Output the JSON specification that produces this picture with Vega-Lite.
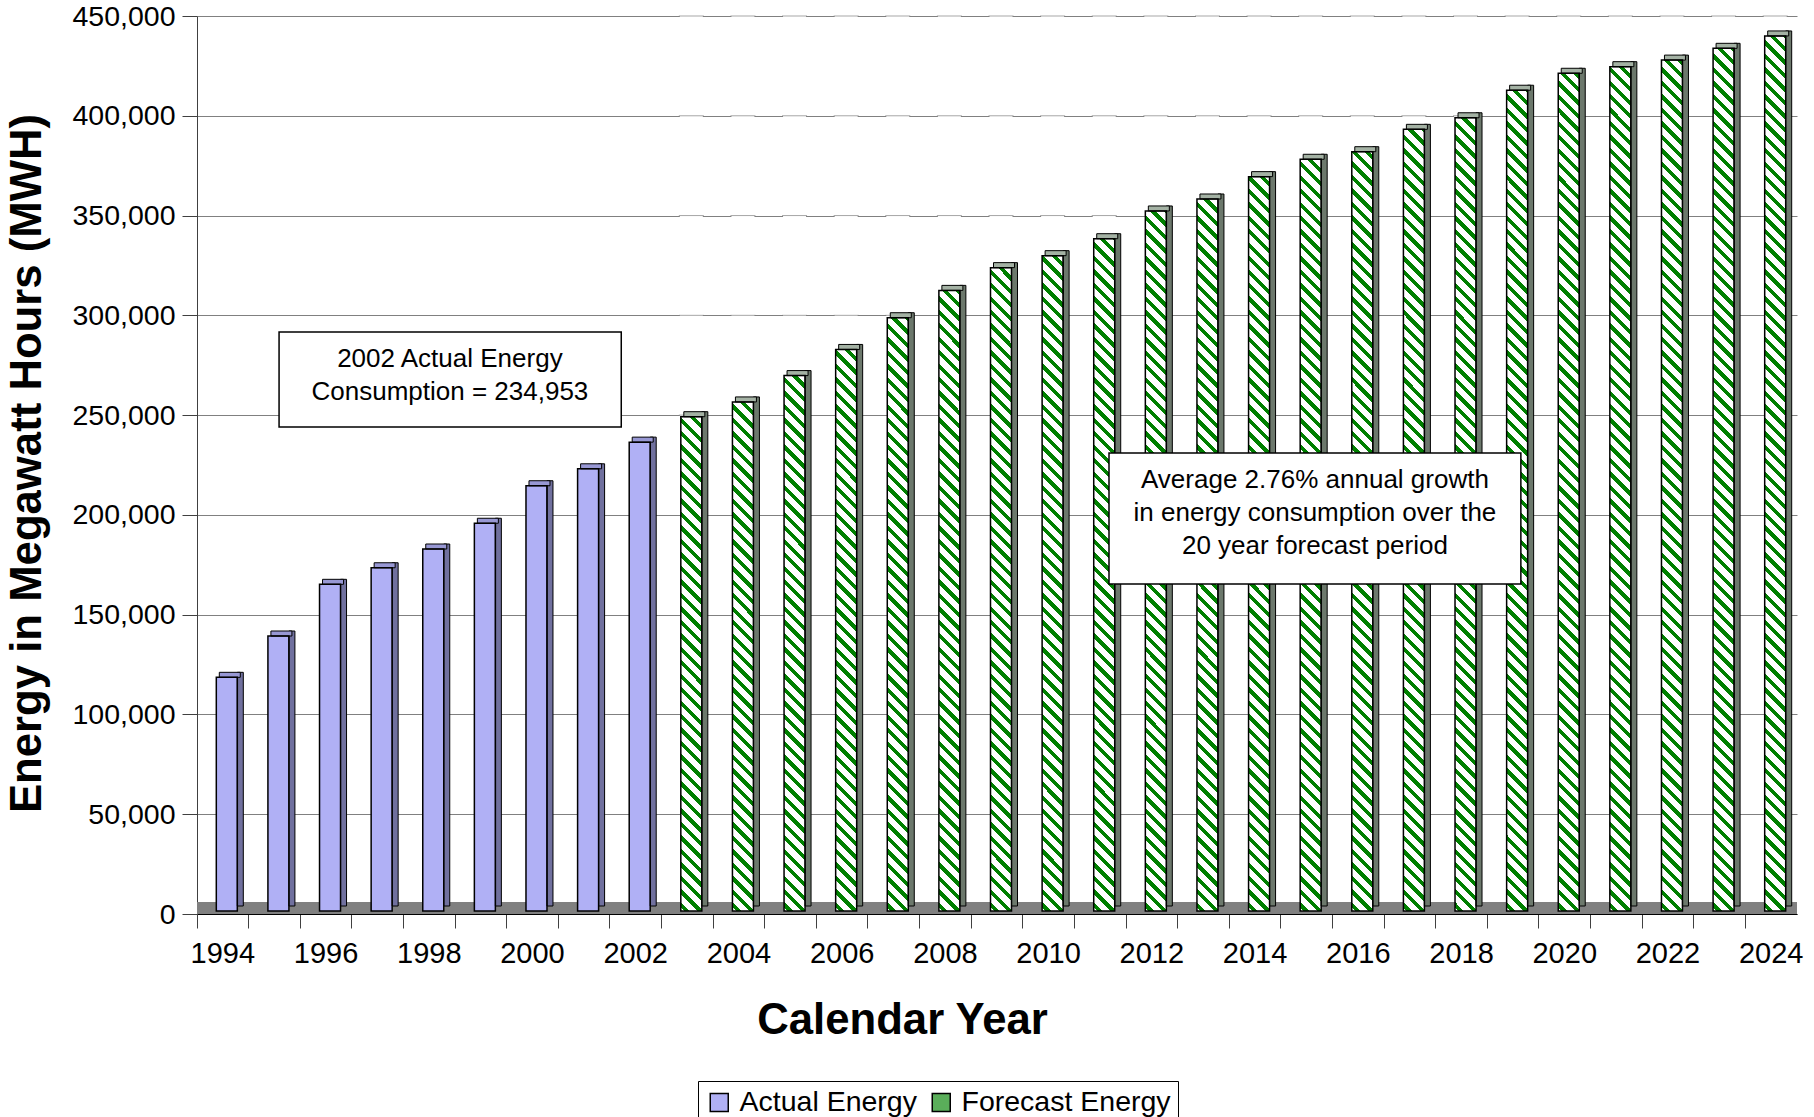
{
  "$schema": "https://vega.github.io/schema/vega-lite/v6.json",
  "width": 1600,
  "height": 898,
  "autosize": {"type": "none"},
  "padding": {"left": 197, "top": 16, "right": 17, "bottom": 203},
  "background": "#ffffff",
  "config": {
    "view": {"stroke": null},
    "font": "Liberation Sans",
    "axis": {"labelFont": "Liberation Sans", "titleFont": "Liberation Sans", "labelColor": "#000000", "titleColor": "#000000"},
    "legend": {"labelFont": "Liberation Sans"},
    "text": {"font": "Liberation Sans"}
  },
  "datasets": {
    "energy": [
      {"year": 1994, "value": 117100, "type": "Actual Energy"},
      {"year": 1995, "value": 137800, "type": "Actual Energy"},
      {"year": 1996, "value": 163700, "type": "Actual Energy"},
      {"year": 1997, "value": 172000, "type": "Actual Energy"},
      {"year": 1998, "value": 181400, "type": "Actual Energy"},
      {"year": 1999, "value": 194300, "type": "Actual Energy"},
      {"year": 2000, "value": 213100, "type": "Actual Energy"},
      {"year": 2001, "value": 221600, "type": "Actual Energy"},
      {"year": 2002, "value": 234953, "type": "Actual Energy"},
      {"year": 2003, "value": 247700, "type": "Forecast Energy"},
      {"year": 2004, "value": 255100, "type": "Forecast Energy"},
      {"year": 2005, "value": 268300, "type": "Forecast Energy"},
      {"year": 2006, "value": 281400, "type": "Forecast Energy"},
      {"year": 2007, "value": 297300, "type": "Forecast Energy"},
      {"year": 2008, "value": 311000, "type": "Forecast Energy"},
      {"year": 2009, "value": 322400, "type": "Forecast Energy"},
      {"year": 2010, "value": 328400, "type": "Forecast Energy"},
      {"year": 2011, "value": 336900, "type": "Forecast Energy"},
      {"year": 2012, "value": 350800, "type": "Forecast Energy"},
      {"year": 2013, "value": 356800, "type": "Forecast Energy"},
      {"year": 2014, "value": 368000, "type": "Forecast Energy"},
      {"year": 2015, "value": 376700, "type": "Forecast Energy"},
      {"year": 2016, "value": 380500, "type": "Forecast Energy"},
      {"year": 2017, "value": 391700, "type": "Forecast Energy"},
      {"year": 2018, "value": 397500, "type": "Forecast Energy"},
      {"year": 2019, "value": 411300, "type": "Forecast Energy"},
      {"year": 2020, "value": 419800, "type": "Forecast Energy"},
      {"year": 2021, "value": 423100, "type": "Forecast Energy"},
      {"year": 2022, "value": 426400, "type": "Forecast Energy"},
      {"year": 2023, "value": 432300, "type": "Forecast Energy"},
      {"year": 2024, "value": 438500, "type": "Forecast Energy"}
    ],
    "notes": [
      {"id": "actual", "label": "2002 Actual Energy\nConsumption = 234,953"},
      {"id": "growth", "label": "Average 2.76% annual growth\nin energy consumption over the\n20 year forecast period"}
    ]
  },
  "layer": [
    {
      "data": {"name": "energy"},
      "layer": [
        {
          "mark": {"type": "rule", "color": "#808080", "strokeWidth": 12, "yOffset": -6},
          "encoding": {"y": {"datum": 0, "type": "quantitative"}}
        },
        {
          "mark": {"type": "bar", "size": 21, "xOffset": 4, "yOffset": -3, "y2Offset": -3, "strokeWidth": 0},
          "encoding": {
            "x": {
              "field": "year", "type": "ordinal",
              "scale": {"paddingInner": 0, "paddingOuter": 0},
              "axis": {
                "title": "Calendar Year",
                "bandPosition": 0,
                "labelExpr": "datum.value % 2 == 0 ? datum.label : ''",
                "labelAngle": 0,
                "labelOverlap": false,
                "labelFontSize": 29,
                "labelPadding": 11,
                "tickSize": 14,
                "tickColor": "#404040",
                "domainColor": "#000000",
                "grid": false,
                "titleFontSize": 43.7,
                "titleFontWeight": "bold",
                "titleX": 705,
                "titleY": 119.4,
                "titleAlign": "center",
                "titleBaseline": "alphabetic"
              }
            },
            "y": {
              "field": "value", "type": "quantitative",
              "scale": {"domain": [0, 450000], "nice": false},
              "axis": {
                "title": "Energy in Megawatt Hours (MWH)",
                "values": [0, 50000, 100000, 150000, 200000, 250000, 300000, 350000, 400000, 450000],
                "format": ",d",
                "labelFontSize": 28.5,
                "labelPadding": 7,
                "tickSize": 15,
                "tickColor": "#404040",
                "domainColor": "#404040",
                "grid": true,
                "gridColor": "#808080",
                "gridWidth": 1,
                "titleFontSize": 43.7,
                "titleFontWeight": "bold",
                "titleAngle": -90,
                "titleX": -157,
                "titleY": 447,
                "titleAlign": "center",
                "titleBaseline": "alphabetic"
              }
            },
            "fill": {
              "field": "type", "type": "nominal",
              "scale": {"domain": ["Actual Energy", "Forecast Energy"], "range": ["#b0b0f5", "#5aae5a"]},
              "legend": {
                "orient": "none",
                "legendX": 501,
                "legendY": 1065,
                "direction": "horizontal",
                "title": null,
                "symbolType": "square",
                "symbolSize": 324,
                "symbolStrokeColor": "#000000",
                "symbolStrokeWidth": 1.5,
                "labelFontSize": 28.5,
                "labelColor": "#000000",
                "labelLimit": 400,
                "labelOffset": 6,
                "columnPadding": 10,
                "padding": 7,
                "strokeColor": "#000000",
                "fillColor": "#ffffff"
              }
            }
          }
        },
        {
          "transform": [{"filter": "datum.type == 'Forecast Energy'"}],
          "mark": {
            "type": "bar", "size": 21, "xOffset": 4, "yOffset": -3, "y2Offset": -3, "strokeWidth": 0,
            "fill": {
              "gradient": "linear", "x1": 0.0234, "y1": 0, "x2": 0, "y2": 1,
              "stops": [
                {"offset": 0, "color": "green"}, {"offset": 0.006, "color": "green"}, {"offset": 0.006, "color": "#fff"}, {"offset": 0.015, "color": "#fff"},
                {"offset": 0.015, "color": "green"}, {"offset": 0.021, "color": "green"}, {"offset": 0.021, "color": "#fff"}, {"offset": 0.03, "color": "#fff"},
                {"offset": 0.03, "color": "green"}, {"offset": 0.036, "color": "green"}, {"offset": 0.036, "color": "#fff"}, {"offset": 0.045, "color": "#fff"},
                {"offset": 0.045, "color": "green"}, {"offset": 0.051, "color": "green"}, {"offset": 0.051, "color": "#fff"}, {"offset": 0.06, "color": "#fff"},
                {"offset": 0.06, "color": "green"}, {"offset": 0.066, "color": "green"}, {"offset": 0.066, "color": "#fff"}, {"offset": 0.075, "color": "#fff"},
                {"offset": 0.075, "color": "green"}, {"offset": 0.081, "color": "green"}, {"offset": 0.081, "color": "#fff"}, {"offset": 0.09, "color": "#fff"},
                {"offset": 0.09, "color": "green"}, {"offset": 0.096, "color": "green"}, {"offset": 0.096, "color": "#fff"}, {"offset": 0.105, "color": "#fff"},
                {"offset": 0.105, "color": "green"}, {"offset": 0.111, "color": "green"}, {"offset": 0.111, "color": "#fff"}, {"offset": 0.12, "color": "#fff"},
                {"offset": 0.12, "color": "green"}, {"offset": 0.126, "color": "green"}, {"offset": 0.126, "color": "#fff"}, {"offset": 0.135, "color": "#fff"},
                {"offset": 0.135, "color": "green"}, {"offset": 0.141, "color": "green"}, {"offset": 0.141, "color": "#fff"}, {"offset": 0.15, "color": "#fff"},
                {"offset": 0.15, "color": "green"}, {"offset": 0.156, "color": "green"}, {"offset": 0.156, "color": "#fff"}, {"offset": 0.165, "color": "#fff"},
                {"offset": 0.165, "color": "green"}, {"offset": 0.171, "color": "green"}, {"offset": 0.171, "color": "#fff"}, {"offset": 0.18, "color": "#fff"},
                {"offset": 0.18, "color": "green"}, {"offset": 0.186, "color": "green"}, {"offset": 0.186, "color": "#fff"}, {"offset": 0.195, "color": "#fff"},
                {"offset": 0.195, "color": "green"}, {"offset": 0.201, "color": "green"}, {"offset": 0.201, "color": "#fff"}, {"offset": 0.21, "color": "#fff"},
                {"offset": 0.21, "color": "green"}, {"offset": 0.216, "color": "green"}, {"offset": 0.216, "color": "#fff"}, {"offset": 0.225, "color": "#fff"},
                {"offset": 0.225, "color": "green"}, {"offset": 0.231, "color": "green"}, {"offset": 0.231, "color": "#fff"}, {"offset": 0.24, "color": "#fff"},
                {"offset": 0.24, "color": "green"}, {"offset": 0.246, "color": "green"}, {"offset": 0.246, "color": "#fff"}, {"offset": 0.255, "color": "#fff"},
                {"offset": 0.255, "color": "green"}, {"offset": 0.261, "color": "green"}, {"offset": 0.261, "color": "#fff"}, {"offset": 0.27, "color": "#fff"},
                {"offset": 0.27, "color": "green"}, {"offset": 0.276, "color": "green"}, {"offset": 0.276, "color": "#fff"}, {"offset": 0.285, "color": "#fff"},
                {"offset": 0.285, "color": "green"}, {"offset": 0.291, "color": "green"}, {"offset": 0.291, "color": "#fff"}, {"offset": 0.3, "color": "#fff"},
                {"offset": 0.3, "color": "green"}, {"offset": 0.306, "color": "green"}, {"offset": 0.306, "color": "#fff"}, {"offset": 0.315, "color": "#fff"},
                {"offset": 0.315, "color": "green"}, {"offset": 0.321, "color": "green"}, {"offset": 0.321, "color": "#fff"}, {"offset": 0.33, "color": "#fff"},
                {"offset": 0.33, "color": "green"}, {"offset": 0.336, "color": "green"}, {"offset": 0.336, "color": "#fff"}, {"offset": 0.345, "color": "#fff"},
                {"offset": 0.345, "color": "green"}, {"offset": 0.351, "color": "green"}, {"offset": 0.351, "color": "#fff"}, {"offset": 0.36, "color": "#fff"},
                {"offset": 0.36, "color": "green"}, {"offset": 0.366, "color": "green"}, {"offset": 0.366, "color": "#fff"}, {"offset": 0.375, "color": "#fff"},
                {"offset": 0.375, "color": "green"}, {"offset": 0.381, "color": "green"}, {"offset": 0.381, "color": "#fff"}, {"offset": 0.39, "color": "#fff"},
                {"offset": 0.39, "color": "green"}, {"offset": 0.396, "color": "green"}, {"offset": 0.396, "color": "#fff"}, {"offset": 0.405, "color": "#fff"},
                {"offset": 0.405, "color": "green"}, {"offset": 0.411, "color": "green"}, {"offset": 0.411, "color": "#fff"}, {"offset": 0.42, "color": "#fff"},
                {"offset": 0.42, "color": "green"}, {"offset": 0.426, "color": "green"}, {"offset": 0.426, "color": "#fff"}, {"offset": 0.435, "color": "#fff"},
                {"offset": 0.435, "color": "green"}, {"offset": 0.441, "color": "green"}, {"offset": 0.441, "color": "#fff"}, {"offset": 0.45, "color": "#fff"},
                {"offset": 0.45, "color": "green"}, {"offset": 0.456, "color": "green"}, {"offset": 0.456, "color": "#fff"}, {"offset": 0.465, "color": "#fff"},
                {"offset": 0.465, "color": "green"}, {"offset": 0.471, "color": "green"}, {"offset": 0.471, "color": "#fff"}, {"offset": 0.48, "color": "#fff"},
                {"offset": 0.48, "color": "green"}, {"offset": 0.486, "color": "green"}, {"offset": 0.486, "color": "#fff"}, {"offset": 0.495, "color": "#fff"},
                {"offset": 0.495, "color": "green"}, {"offset": 0.501, "color": "green"}, {"offset": 0.501, "color": "#fff"}, {"offset": 0.51, "color": "#fff"},
                {"offset": 0.51, "color": "green"}, {"offset": 0.516, "color": "green"}, {"offset": 0.516, "color": "#fff"}, {"offset": 0.525, "color": "#fff"},
                {"offset": 0.525, "color": "green"}, {"offset": 0.531, "color": "green"}, {"offset": 0.531, "color": "#fff"}, {"offset": 0.54, "color": "#fff"},
                {"offset": 0.54, "color": "green"}, {"offset": 0.546, "color": "green"}, {"offset": 0.546, "color": "#fff"}, {"offset": 0.555, "color": "#fff"},
                {"offset": 0.555, "color": "green"}, {"offset": 0.561, "color": "green"}, {"offset": 0.561, "color": "#fff"}, {"offset": 0.57, "color": "#fff"},
                {"offset": 0.57, "color": "green"}, {"offset": 0.576, "color": "green"}, {"offset": 0.576, "color": "#fff"}, {"offset": 0.585, "color": "#fff"},
                {"offset": 0.585, "color": "green"}, {"offset": 0.591, "color": "green"}, {"offset": 0.591, "color": "#fff"}, {"offset": 0.6, "color": "#fff"},
                {"offset": 0.6, "color": "green"}, {"offset": 0.606, "color": "green"}, {"offset": 0.606, "color": "#fff"}, {"offset": 0.615, "color": "#fff"},
                {"offset": 0.615, "color": "green"}, {"offset": 0.621, "color": "green"}, {"offset": 0.621, "color": "#fff"}, {"offset": 0.63, "color": "#fff"},
                {"offset": 0.63, "color": "green"}, {"offset": 0.636, "color": "green"}, {"offset": 0.636, "color": "#fff"}, {"offset": 0.645, "color": "#fff"},
                {"offset": 0.645, "color": "green"}, {"offset": 0.651, "color": "green"}, {"offset": 0.651, "color": "#fff"}, {"offset": 0.66, "color": "#fff"},
                {"offset": 0.66, "color": "green"}, {"offset": 0.666, "color": "green"}, {"offset": 0.666, "color": "#fff"}, {"offset": 0.675, "color": "#fff"},
                {"offset": 0.675, "color": "green"}, {"offset": 0.681, "color": "green"}, {"offset": 0.681, "color": "#fff"}, {"offset": 0.69, "color": "#fff"},
                {"offset": 0.69, "color": "green"}, {"offset": 0.696, "color": "green"}, {"offset": 0.696, "color": "#fff"}, {"offset": 0.705, "color": "#fff"},
                {"offset": 0.705, "color": "green"}, {"offset": 0.711, "color": "green"}, {"offset": 0.711, "color": "#fff"}, {"offset": 0.72, "color": "#fff"},
                {"offset": 0.72, "color": "green"}, {"offset": 0.726, "color": "green"}, {"offset": 0.726, "color": "#fff"}, {"offset": 0.735, "color": "#fff"},
                {"offset": 0.735, "color": "green"}, {"offset": 0.741, "color": "green"}, {"offset": 0.741, "color": "#fff"}, {"offset": 0.75, "color": "#fff"},
                {"offset": 0.75, "color": "green"}, {"offset": 0.756, "color": "green"}, {"offset": 0.756, "color": "#fff"}, {"offset": 0.765, "color": "#fff"},
                {"offset": 0.765, "color": "green"}, {"offset": 0.771, "color": "green"}, {"offset": 0.771, "color": "#fff"}, {"offset": 0.78, "color": "#fff"},
                {"offset": 0.78, "color": "green"}, {"offset": 0.786, "color": "green"}, {"offset": 0.786, "color": "#fff"}, {"offset": 0.795, "color": "#fff"},
                {"offset": 0.795, "color": "green"}, {"offset": 0.801, "color": "green"}, {"offset": 0.801, "color": "#fff"}, {"offset": 0.81, "color": "#fff"},
                {"offset": 0.81, "color": "green"}, {"offset": 0.816, "color": "green"}, {"offset": 0.816, "color": "#fff"}, {"offset": 0.825, "color": "#fff"},
                {"offset": 0.825, "color": "green"}, {"offset": 0.831, "color": "green"}, {"offset": 0.831, "color": "#fff"}, {"offset": 0.84, "color": "#fff"},
                {"offset": 0.84, "color": "green"}, {"offset": 0.846, "color": "green"}, {"offset": 0.846, "color": "#fff"}, {"offset": 0.855, "color": "#fff"},
                {"offset": 0.855, "color": "green"}, {"offset": 0.861, "color": "green"}, {"offset": 0.861, "color": "#fff"}, {"offset": 0.87, "color": "#fff"},
                {"offset": 0.87, "color": "green"}, {"offset": 0.876, "color": "green"}, {"offset": 0.876, "color": "#fff"}, {"offset": 0.885, "color": "#fff"},
                {"offset": 0.885, "color": "green"}, {"offset": 0.891, "color": "green"}, {"offset": 0.891, "color": "#fff"}, {"offset": 0.9, "color": "#fff"},
                {"offset": 0.9, "color": "green"}, {"offset": 0.906, "color": "green"}, {"offset": 0.906, "color": "#fff"}, {"offset": 0.915, "color": "#fff"},
                {"offset": 0.915, "color": "green"}, {"offset": 0.921, "color": "green"}, {"offset": 0.921, "color": "#fff"}, {"offset": 0.93, "color": "#fff"},
                {"offset": 0.93, "color": "green"}, {"offset": 0.936, "color": "green"}, {"offset": 0.936, "color": "#fff"}, {"offset": 0.945, "color": "#fff"},
                {"offset": 0.945, "color": "green"}, {"offset": 0.951, "color": "green"}, {"offset": 0.951, "color": "#fff"}, {"offset": 0.96, "color": "#fff"},
                {"offset": 0.96, "color": "green"}, {"offset": 0.966, "color": "green"}, {"offset": 0.966, "color": "#fff"}, {"offset": 0.975, "color": "#fff"},
                {"offset": 0.975, "color": "green"}, {"offset": 0.981, "color": "green"}, {"offset": 0.981, "color": "#fff"}, {"offset": 0.99, "color": "#fff"},
                {"offset": 0.99, "color": "green"}, {"offset": 0.996, "color": "green"}, {"offset": 0.996, "color": "#fff"}, {"offset": 1, "color": "#fff"}
              ]
            }
          },
          "encoding": {
            "x": {"field": "year", "type": "ordinal", "scale": {"paddingInner": 0, "paddingOuter": 0}},
            "y": {"datum": 450000, "type": "quantitative"},
            "y2": {"datum": 0}
          }
        },
        {
          "transform": [{"filter": "datum.type == 'Forecast Energy'"}],
          "mark": {"type": "bar", "size": 23, "xOffset": 4, "yOffset": -3, "y2Offset": -4, "fill": "#ffffff", "strokeWidth": 0},
          "encoding": {
            "x": {"field": "year", "type": "ordinal", "scale": {"paddingInner": 0, "paddingOuter": 0}},
            "y": {"field": "value", "type": "quantitative"},
            "y2": {"datum": 450000}
          }
        },
        {
          "transform": [{"filter": "datum.type == 'Forecast Energy' && datum.value < 250000"}],
          "mark": {"type": "tick", "size": 25, "thickness": 1, "color": "#808080", "xOffset": 4},
          "encoding": {"x": {"field": "year", "type": "ordinal", "scale": {"paddingInner": 0, "paddingOuter": 0}}, "y": {"datum": 250000, "type": "quantitative"}}
        },
        {
          "transform": [{"filter": "datum.type == 'Forecast Energy' && datum.value < 300000"}],
          "mark": {"type": "tick", "size": 25, "thickness": 1, "color": "#808080", "xOffset": 4},
          "encoding": {"x": {"field": "year", "type": "ordinal", "scale": {"paddingInner": 0, "paddingOuter": 0}}, "y": {"datum": 300000, "type": "quantitative"}}
        },
        {
          "transform": [{"filter": "datum.type == 'Forecast Energy' && datum.value < 350000"}],
          "mark": {"type": "tick", "size": 25, "thickness": 1, "color": "#808080", "xOffset": 4},
          "encoding": {"x": {"field": "year", "type": "ordinal", "scale": {"paddingInner": 0, "paddingOuter": 0}}, "y": {"datum": 350000, "type": "quantitative"}}
        },
        {
          "transform": [{"filter": "datum.type == 'Forecast Energy' && datum.value < 400000"}],
          "mark": {"type": "tick", "size": 25, "thickness": 1, "color": "#808080", "xOffset": 4},
          "encoding": {"x": {"field": "year", "type": "ordinal", "scale": {"paddingInner": 0, "paddingOuter": 0}}, "y": {"datum": 400000, "type": "quantitative"}}
        },
        {
          "transform": [{"filter": "datum.type == 'Forecast Energy'"}],
          "mark": {"type": "tick", "size": 25, "thickness": 1, "color": "#808080", "xOffset": 4},
          "encoding": {"x": {"field": "year", "type": "ordinal", "scale": {"paddingInner": 0, "paddingOuter": 0}}, "y": {"datum": 450000, "type": "quantitative"}}
        },
        {
          "mark": {"type": "bar", "size": 6, "xOffset": 17.5, "yOffset": -8, "y2Offset": -8, "stroke": "#000000", "strokeWidth": 1},
          "encoding": {
            "x": {"field": "year", "type": "ordinal", "scale": {"paddingInner": 0, "paddingOuter": 0}},
            "y": {"field": "value", "type": "quantitative"},
            "fill": {"condition": {"test": "datum.type == 'Actual Energy'", "value": "#70709e"}, "value": "#6c786c"}
          }
        },
        {
          "mark": {"type": "bar", "size": 21, "xOffset": 7, "yOffset": -3, "y2Offset": -8, "stroke": "#000000", "strokeWidth": 1},
          "encoding": {
            "x": {"field": "year", "type": "ordinal", "scale": {"paddingInner": 0, "paddingOuter": 0}},
            "y": {"field": "value", "type": "quantitative"},
            "y2": {"field": "value"},
            "fill": {"condition": {"test": "datum.type == 'Actual Energy'", "value": "#9898d4"}, "value": "#a4b2a4"}
          }
        },
        {
          "mark": {"type": "bar", "size": 21, "xOffset": 4, "yOffset": -3, "y2Offset": -3, "fill": "transparent", "stroke": "#000000", "strokeWidth": 1.5},
          "encoding": {
            "x": {"field": "year", "type": "ordinal", "scale": {"paddingInner": 0, "paddingOuter": 0}},
            "y": {"field": "value", "type": "quantitative"}
          }
        }
      ]
    },
    {
      "data": {"name": "notes"},
      "layer": [
        {
          "transform": [{"filter": "datum.id == 'actual'"}],
          "mark": {"type": "rect", "fill": "#ffffff", "stroke": "#000000", "strokeWidth": 1.5},
          "encoding": {
            "x": {"datum": 1995.09, "type": "quantitative", "scale": {"domain": [1993.5, 2024.5], "nice": false, "zero": false}, "axis": null},
            "x2": {"datum": 2001.72},
            "y": {"datum": 291600, "type": "quantitative"},
            "y2": {"datum": 244000}
          }
        },
        {
          "transform": [{"filter": "datum.id == 'actual'"}],
          "mark": {"type": "text", "fontSize": 26, "lineHeight": 32.5, "lineBreak": "\n", "align": "center", "baseline": "middle", "color": "#000000"},
          "encoding": {
            "x": {"datum": 1998.4, "type": "quantitative", "axis": null},
            "y": {"datum": 278100, "type": "quantitative"},
            "text": {"field": "label", "type": "nominal"}
          }
        },
        {
          "transform": [{"filter": "datum.id == 'growth'"}],
          "mark": {"type": "rect", "fill": "#ffffff", "stroke": "#000000", "strokeWidth": 1.5},
          "encoding": {
            "x": {"datum": 2011.17, "type": "quantitative", "axis": null},
            "x2": {"datum": 2019.15},
            "y": {"datum": 231000, "type": "quantitative"},
            "y2": {"datum": 165400}
          }
        },
        {
          "transform": [{"filter": "datum.id == 'growth'"}],
          "mark": {"type": "text", "fontSize": 26, "lineHeight": 33, "lineBreak": "\n", "align": "center", "baseline": "middle", "color": "#000000"},
          "encoding": {
            "x": {"datum": 2015.16, "type": "quantitative", "axis": null},
            "y": {"datum": 217500, "type": "quantitative"},
            "text": {"field": "label", "type": "nominal"}
          }
        }
      ]
    }
  ],
  "resolve": {"scale": {"x": "independent"}}
}
